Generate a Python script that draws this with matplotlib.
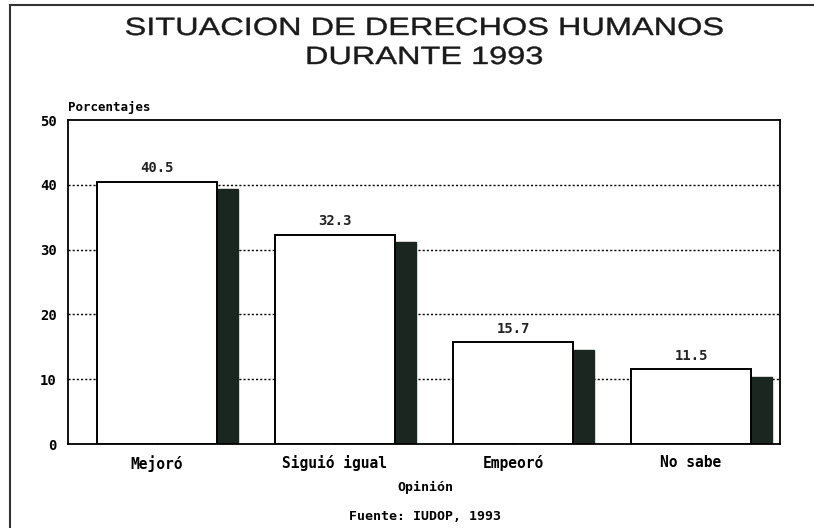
import matplotlib.pyplot as plt
from matplotlib.lines import Line2D
from matplotlib import patheffects
from matplotlib.transforms import Affine2D

categorias = ['Mejoró', 'Siguió igual', 'Empeoró', 'No sabe']
porcentajes = [40.5, 32.3, 15.7, 11.5]
etiquetas = ['40.5', '32.3', '15.7', '11.5']
yticks = [0, 10, 20, 30, 40, 50]

mono = 'DejaVu Sans Mono'


class Estirar(patheffects.AbstractPathEffect):
    # widen the title glyphs horizontally around a centre x (pixels), slightly heavier stroke
    def __init__(self, sx, cx, grosor=0.3):
        super().__init__()
        self.sx = sx
        self.cx = cx
        self.grosor = grosor

    def draw_path(self, renderer, gc, tpath, affine, rgbFace=None):
        a = affine + Affine2D().translate(-self.cx, 0).scale(self.sx, 1).translate(self.cx, 0)
        gc0 = renderer.new_gc()
        gc0.copy_properties(gc)
        gc0.set_linewidth(self.grosor)
        gc0.set_foreground(rgbFace)
        renderer.draw_path(gc0, tpath, a, rgbFace)
        gc0.restore()


fig = plt.figure(figsize=(8.14, 5.28), dpi=100)
ax = fig.add_axes([68 / 814, 1 - 444 / 528, (780 - 68) / 814, (444 - 120) / 528])

x = list(range(len(categorias)))
ancho = 0.675
sombra = 0.115
baja = 1.2

# dotted grid behind bars
for v in yticks[1:-1]:
    ax.axhline(v, color='black', lw=1, ls=(0, (1.5, 1.5)), zorder=1)

# shadow bars to the right of each bar
ax.bar([i + ancho / 2 + sombra / 2 for i in x], [p - baja for p in porcentajes],
       width=sombra, color='#1c2620', edgecolor='#1c2620', zorder=2)
ax.bar(x, porcentajes, width=ancho, color='white', edgecolor='black', lw=1.4, zorder=3)

for i, p, t in zip(x, porcentajes, etiquetas):
    ax.text(i, p + 1.0, t, ha='center', va='bottom', family=mono,
            fontweight='bold', fontsize=10, color='#222222')

ax.set_xlim(-0.5, 3.5)
ax.set_ylim(0, 50)
ax.set_yticks(yticks)
ax.set_yticklabels([str(v) for v in yticks], family=mono, fontweight='bold', fontsize=10)
ax.set_xticks(x)
ax.set_xticklabels(categorias, family=mono, fontweight='bold', fontsize=10.5)
ax.tick_params(axis='x', direction='in', length=5, width=1, pad=8)
ax.tick_params(axis='y', direction='out', length=0, pad=8)
for s in ax.spines.values():
    s.set_linewidth(1.3)

fig.text(68 / 814, 1 - 107 / 528, 'Porcentajes', family=mono, fontweight='bold',
         fontsize=9, ha='left', va='center')
fig.text(425 / 814, 1 - 487 / 528, 'Opinión', family=mono, fontweight='bold',
         fontsize=9.5, ha='center', va='center')
fig.text(425 / 814, 1 - 516 / 528, 'Fuente: IUDOP, 1993', family=mono, fontweight='bold',
         fontsize=9.5, ha='center', va='center')

# title, two lines, stretched wide like the original
efecto = [Estirar(1.3, 424)]
fig.text(424 / 814, 1 - 35 / 528, 'SITUACION DE DERECHOS HUMANOS', family='Liberation Sans',
         fontsize=18, ha='center', va='baseline', color='#1a1a1a', path_effects=efecto)
fig.text(424 / 814, 1 - 64 / 528, 'DURANTE 1993', family='Liberation Sans',
         fontsize=18, ha='center', va='baseline', color='#1a1a1a', path_effects=efecto)

# outer frame (top and left)
fig.add_artist(Line2D([10 / 814, 1], [1 - 5 / 528, 1 - 5 / 528], transform=fig.transFigure,
                      color='#333333', lw=1.5))
fig.add_artist(Line2D([10 / 814, 10 / 814], [0, 1 - 5 / 528], transform=fig.transFigure,
                      color='#333333', lw=1.5))

fig.savefig('out.png', dpi=100)
